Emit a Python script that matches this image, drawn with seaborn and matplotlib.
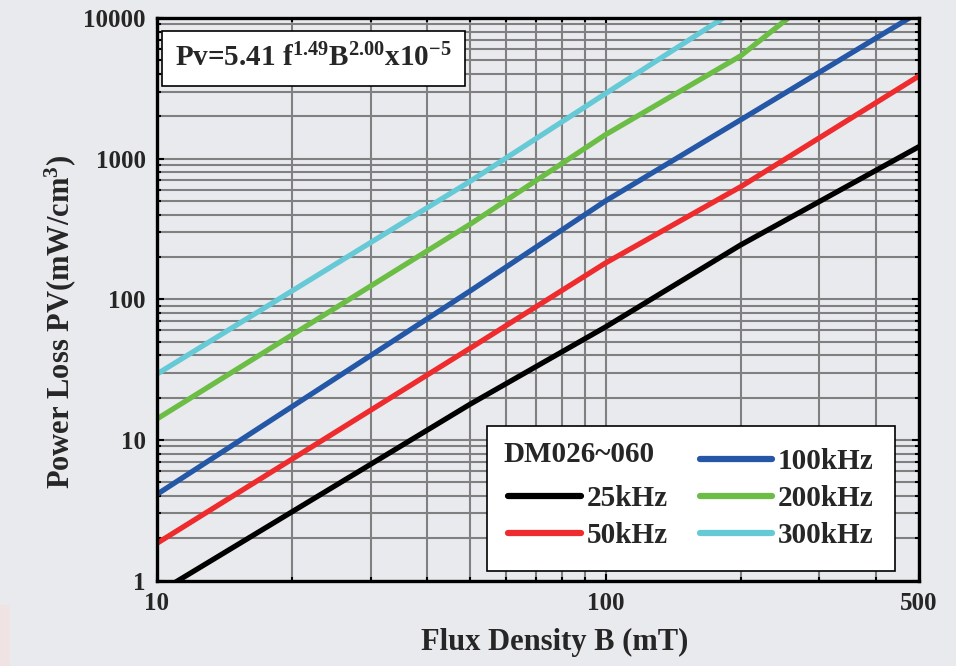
import numpy as np
import pandas as pd
import matplotlib
matplotlib.use("Agg")
import matplotlib.pyplot as plt
from matplotlib.lines import Line2D
from matplotlib.ticker import NullFormatter, FixedLocator
import matplotlib.patches as mpatches
import seaborn as sns

# ---- data ----
B_25k = [10, 50, 100, 200, 500]
P_25k = [0.81, 18.0, 63.5, 243, 1217]
B_50k = [10, 50, 100, 200, 500]
P_50k = [1.84, 45, 181, 630, 3870]
B_100k = [10, 50, 100, 200, 500]
P_100k = [4.1, 115, 500, 1885, 11000]
B_200k = [10, 50, 100, 200, 300]
P_200k = [14.1, 343, 1480, 5370, 15000]
B_300k = [10, 50, 100, 200]
P_300k = [29.4, 692, 2900, 12000]

series_names = ["25kHz", "50kHz", "100kHz", "200kHz", "300kHz"]
series_colors = ["#000000", "#ee2b2d", "#2457a6", "#6cbd45", "#66c9d6"]
x_tick_vals = [10, 100, 500]
x_tick_labels = ["10", "100", "500"]
y_tick_vals = [1, 10, 100, 1000, 10000]
y_tick_labels = ["1", "10", "100", "1000", "10000"]
legend_title = "DM026~060"
formula = r"Pv=5.41 f$^{\mathbf{1.49}}$B$^{\mathbf{2.00}}$x10$^{\mathbf{-5}}$"

frames = []
for name, bs, ps in zip(series_names,
                        [B_25k, B_50k, B_100k, B_200k, B_300k],
                        [P_25k, P_50k, P_100k, P_200k, P_300k]):
    frames.append(pd.DataFrame({"B": bs, "P": ps, "freq": name}))
df = pd.concat(frames, ignore_index=True)

bg = "#e9eaed"
sns.set_style("white")
plt.rcParams["font.family"] = ["Liberation Serif", "DejaVu Serif"]
plt.rcParams["font.weight"] = "bold"
plt.rcParams["mathtext.fontset"] = "custom"
plt.rcParams["mathtext.rm"] = "Liberation Serif:bold"
plt.rcParams["mathtext.bf"] = "Liberation Serif:bold"
plt.rcParams["mathtext.it"] = "Liberation Serif:bold"

fig = plt.figure(figsize=(9.56, 6.66), dpi=100, facecolor=bg)
ax = fig.add_axes([157 / 956, 1 - 580.5 / 666, (919 - 157) / 956, (580.5 - 18) / 666])
ax.set_facecolor(bg)

# faint pink patch at bottom-left edge
fig.patches.append(mpatches.Rectangle((0, 0), 10 / 956, 61 / 666, transform=fig.transFigure,
                                      facecolor="#f0e3e4", edgecolor="none", zorder=0))

palette = dict(zip(series_names, series_colors))
sns.lineplot(data=df, x="B", y="P", hue="freq", palette=palette, hue_order=series_names,
             linewidth=3.8, legend=False, ax=ax, zorder=3, sort=True)

ax.set_xscale("log")
ax.set_yscale("log")
ax.set_xlim(10, 500)
ax.set_ylim(1, 10000)

ax.xaxis.set_major_locator(FixedLocator(x_tick_vals))
ax.set_xticklabels(x_tick_labels)
ax.xaxis.set_minor_locator(FixedLocator([20, 30, 40, 50, 60, 70, 80, 90, 200, 300, 400]))
ax.xaxis.set_minor_formatter(NullFormatter())
ax.yaxis.set_major_locator(FixedLocator(y_tick_vals))
ax.set_yticklabels(y_tick_labels)
yminor = [m * 10 ** d for d in range(4) for m in range(2, 10)]
ax.yaxis.set_minor_locator(FixedLocator(yminor))
ax.yaxis.set_minor_formatter(NullFormatter())

ax.grid(which="both", color="#808080", linewidth=1.5, zorder=1)
ax.set_axisbelow(True)

for s in ax.spines.values():
    s.set_color("black")
    s.set_linewidth(2.4)
    s.set_zorder(4)

ax.tick_params(which="both", direction="in", top=True, right=True, left=True, bottom=True,
               color="black", width=1.5)
ax.tick_params(which="major", length=5, labelsize=18, pad=8)
ax.tick_params(which="minor", length=3)
for lab in ax.get_xticklabels() + ax.get_yticklabels():
    lab.set_fontweight("bold")

ax.set_xlabel("Flux Density B (mT)", fontsize=22, fontweight="bold")
ax.set_ylabel(r"Power Loss PV(mW/cm$^{\mathbf{3}}$)", fontsize=22, fontweight="bold")
ax.xaxis.set_label_coords(0.522, -0.085)
ax.yaxis.set_label_coords(-0.104, 0.4596)

# formula box
ax.text(0.2054, 0.928, formula, transform=ax.transAxes, ha="center", va="center",
        fontsize=21, fontweight="bold", zorder=6,
        bbox=dict(boxstyle="square,pad=0.45", facecolor="white", edgecolor="black", linewidth=1.2))

# legend
handles = [Line2D([], [], color="none", label=" ")]
for name, c in zip(series_names, series_colors):
    handles.append(Line2D([], [], color=c, linewidth=4.5, label=name))
leg = ax.legend(handles=handles, ncol=2, loc="lower right",
                bbox_to_anchor=((895 - 157) / 762, (580.5 - 571) / 562.5),
                borderaxespad=0, frameon=True, fancybox=False, framealpha=1,
                edgecolor="black", facecolor="white",
                handlelength=2.5, handletextpad=0.17, columnspacing=1.1, labelspacing=0.35,
                borderpad=0.75, prop={"weight": "bold", "size": 21})
leg.get_frame().set_linewidth(1.2)
leg.set_zorder(5)
ax.text((503 - 157) / 762, (580.5 - 455) / 562.5, legend_title, transform=ax.transAxes,
        ha="left", va="center", fontsize=21, fontweight="bold", zorder=7)

fig.savefig("out.png", dpi=100, facecolor=bg)
